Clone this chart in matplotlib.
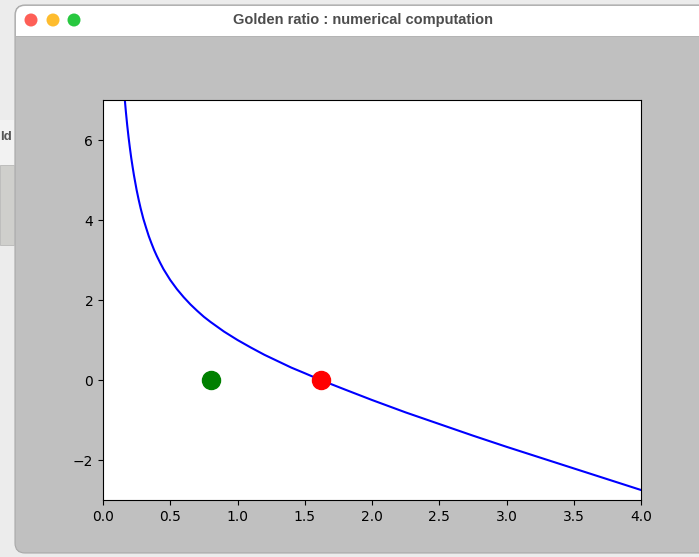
import numpy as np
import matplotlib
matplotlib.use("Agg")
from matplotlib import pyplot as plt
from matplotlib.patches import Rectangle, FancyBboxPatch, Circle
from matplotlib.transforms import IdentityTransform

# curve values
x_vals = [0.15, 0.16, 0.17, 0.18, 0.19, 0.20, 0.21, 0.22, 0.23, 0.25, 0.265, 0.28, 0.30,
          0.32, 0.34, 0.36, 0.38, 0.40, 0.425, 0.45, 0.50, 0.55, 0.60, 0.65, 0.70, 0.75,
          0.80, 0.90, 1.00, 1.10, 1.20, 1.30, 1.40, 1.50, 1.618, 1.80, 2.00, 2.25, 2.50,
          2.75, 3.00, 3.25, 3.50, 3.75, 4.00]
y_vals = [7.52, 7.09, 6.71, 6.37, 6.07, 5.80, 5.55, 5.33, 5.12, 4.75, 4.51, 4.29, 4.03,
          3.81, 3.60, 3.42, 3.25, 3.10, 2.93, 2.77, 2.50, 2.27, 2.07, 1.89, 1.73, 1.58,
          1.45, 1.21, 1.00, 0.81, 0.63, 0.47, 0.31, 0.17, 0.00, -0.24, -0.50, -0.81, -1.10,
          -1.39, -1.67, -1.94, -2.21, -2.48, -2.75]

# the two marked points
start_x, start_y = [0.8], [0.0]
root_x, root_y = [1.618], [0.0]

window_title = "Golden ratio : numerical computation"

W, H = 699, 557
fig = plt.figure(figsize=(W / 100, H / 100), dpi=100)
fig.patch.set_facecolor("#ececec")

def px(x, y):
    #pixel coords (top-left origin) to figure fraction
    return x / W, 1 - y / H

#window chrome, drawn in pixels (display coords, origin bottom-left)
fig.patches.append(FancyBboxPatch((15, H - 553), 720, 548,
                                  boxstyle="round,pad=0,rounding_size=10",
                                  transform=IdentityTransform(), facecolor="#c0c0c0",
                                  edgecolor="#a8a8a8", linewidth=0.8, zorder=0))
fig.patches.append(FancyBboxPatch((16, H - 36), 720, 30,
                                  boxstyle="round,pad=0,rounding_size=9",
                                  transform=IdentityTransform(), facecolor="white",
                                  edgecolor="none", zorder=1))
fig.patches.append(Rectangle((16, H - 36), 720, 12, transform=IdentityTransform(),
                             facecolor="white", edgecolor="none", zorder=1))
fig.patches.append(Rectangle((16, H - 37), 720, 1.2, transform=IdentityTransform(),
                             facecolor="#b4b4b4", edgecolor="none", zorder=1))
for cx, col in [(31, "#fe5f57"), (53, "#febc2e"), (74, "#28c840")]:
    fig.patches.append(Circle((cx, H - 20), 6.5, transform=IdentityTransform(),
                              facecolor=col, edgecolor="none", zorder=2))
tx, ty = px(363, 20)
fig.text(tx, ty, window_title, ha="center", va="center", fontsize=10.5,
         fontweight="bold", family="Liberation Sans", color="#4d4d4d")

#partial window on the left
fig.patches.append(Rectangle((0, H - 165), 14, 45, transform=IdentityTransform(),
                             facecolor="#f2f2f2", edgecolor="none", zorder=0))
fig.patches.append(Rectangle((0, H - 245), 14, 80, transform=IdentityTransform(),
                             facecolor="#cfcfcc", edgecolor="#b8b8b8", linewidth=0.6, zorder=0))
fig.text(px(0, 137)[0], px(0, 137)[1], "ld", ha="left", va="center", fontsize=9.5,
         fontweight="bold", family="Liberation Sans", color="#555555")

ax = fig.add_axes([103 / W, 57 / H, 538 / W, 400 / H])
ax.set_zorder(5)
ax.plot(x_vals, y_vals, color="blue", linewidth=1.5)
ax.plot(start_x, start_y, "o", color="green", markersize=13)
ax.plot(root_x, root_y, "o", color="red", markersize=13)
ax.set_xlim(0, 4)
ax.set_ylim(-3, 7)
ax.set_xticks(np.arange(0, 4.01, 0.5))
ax.set_yticks([-2, 0, 2, 4, 6])

fig.savefig("out.png", dpi=100, facecolor=fig.get_facecolor())
